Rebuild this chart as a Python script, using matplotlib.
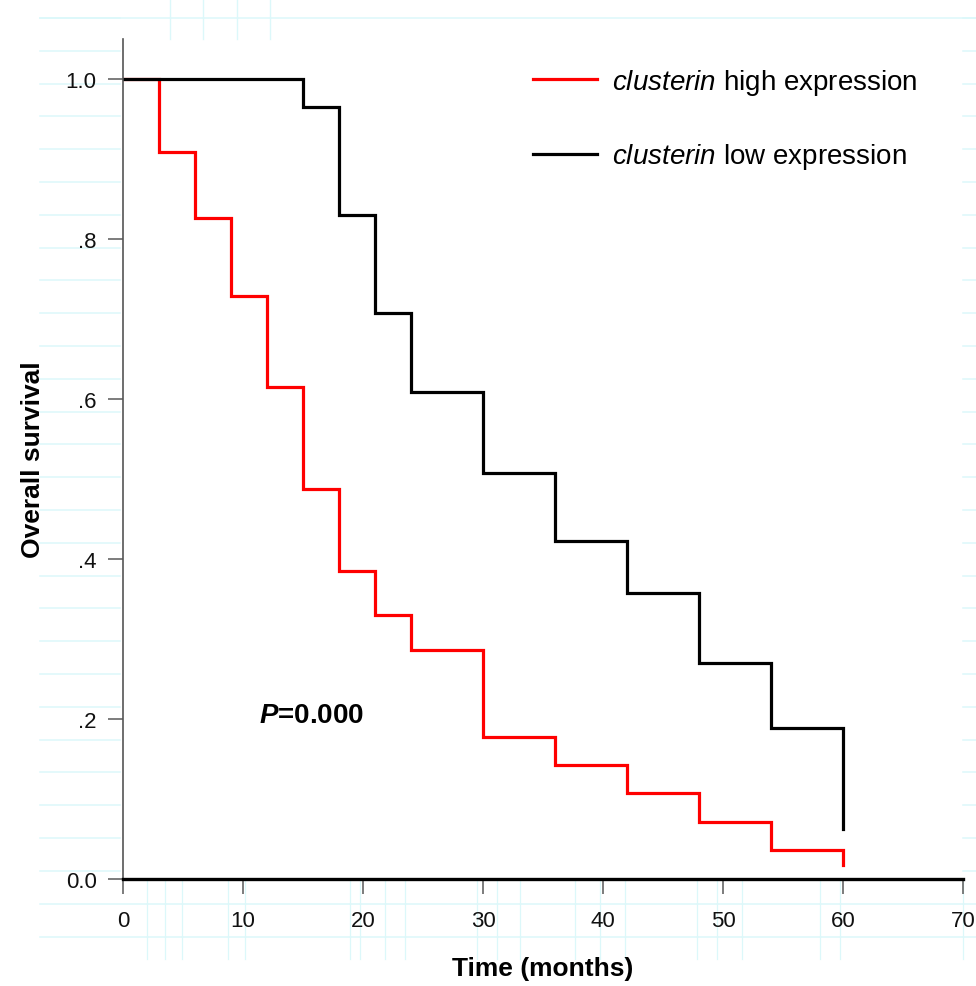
import matplotlib
matplotlib.use("Agg")
from matplotlib import pyplot as plt
from matplotlib.lines import Line2D
import numpy as np

plt.rcParams['font.family'] = ['Liberation Sans', 'DejaVu Sans']
plt.rcParams['mathtext.fontset'] = 'custom'
plt.rcParams['mathtext.rm'] = 'Liberation Sans'
plt.rcParams['mathtext.it'] = 'Liberation Sans:italic'
plt.rcParams['mathtext.bf'] = 'Liberation Sans:bold'
plt.rcParams['mathtext.bfit'] = 'Liberation Sans:bold:italic'

# survival curves (time in months, survival fraction)
highTime = [0, 3, 6, 9, 12, 15, 18, 21, 24, 30, 36, 42, 48, 54, 60]
highSurv = [1.0, 0.909, 0.826, 0.729, 0.615, 0.488, 0.385, 0.330, 0.286, 0.178, 0.142, 0.107, 0.071, 0.036, 0.018]
lowTime = [0, 15, 18, 21, 24, 30, 36, 42, 48, 54, 60]
lowSurv = [1.0, 0.965, 0.830, 0.708, 0.609, 0.507, 0.423, 0.357, 0.270, 0.189, 0.063]

xTicks = [0, 10, 20, 30, 40, 50, 60, 70]
yTicks = [0.0, 0.2, 0.4, 0.6, 0.8, 1.0]
yTickLabels = ['0.0', '.2', '.4', '.6', '.8', '1.0']

W, H = 976, 987
fig = plt.figure(figsize=(W / 100, H / 100), dpi=100)

# faint cyan page lines behind the chart
bg = fig.add_axes([0, 0, 1, 1], zorder=-1)
bg.set_xlim(0, W)
bg.set_ylim(H, 0)
bg.axis('off')
gridCol = '#dcf8fa'
for k in range(27):
    yy = 19 + 32.8 * k
    bg.plot([40, 120], [yy, yy], color=gridCol, lw=1.1)
    bg.plot([963, 976], [yy, yy], color=gridCol, lw=1.1)
bg.plot([40, 976], [19, 19], color=gridCol, lw=1.1)
bg.plot([40, 976], [905, 905], color=gridCol, lw=1.1)
bg.plot([40, 976], [938, 938], color=gridCol, lw=1.1)
for xx in [170, 203, 237, 270]:
    bg.plot([xx, xx], [0, 40], color=gridCol, lw=1.0)
for xx in [147, 165, 182, 228, 245, 350, 360, 385, 405, 477, 497, 520, 575, 600, 625, 697, 717, 742, 820, 840, 963]:
    bg.plot([xx, xx], [882, 960], color=gridCol, lw=0.9)

ax = fig.add_axes([123 / W, 1 - 880 / H, 840 / W, 840 / H])
ax.set_facecolor('none')

ax.step(highTime, highSurv, where='post', color='#ff0000', lw=2.3, solid_joinstyle='miter')
ax.step(lowTime, lowSurv, where='post', color='black', lw=2.3, solid_joinstyle='miter')

ax.set_xlim(0, 70)
ax.set_ylim(0, 1.05)
ax.set_xticks(xTicks)
ax.set_yticks(yTicks)
ax.set_yticklabels(yTickLabels)

for s in ['top', 'right']:
    ax.spines[s].set_visible(False)
ax.spines['left'].set_color('#555555')
ax.spines['left'].set_linewidth(1.2)
ax.spines['bottom'].set_color('black')
ax.spines['bottom'].set_linewidth(2.4)

ax.tick_params(axis='x', length=11, width=1.2, color='#666666', labelsize=16, labelcolor='#111111', pad=11)
ax.tick_params(axis='y', length=11, width=1.2, color='#666666', labelsize=16, labelcolor='#111111', pad=8)

ax.set_xlabel('Time (months)', fontsize=19, fontweight='bold', labelpad=18)
ax.set_ylabel('Overall survival', fontsize=19, fontweight='bold', labelpad=15)

ax.text(11.3, 0.205, r'$\mathbfit{P}$=0.000', fontsize=20, fontweight='bold', va='center', ha='left')

handles = [Line2D([], [], color='#ff0000', lw=2.3), Line2D([], [], color='black', lw=2.3)]
labels = [r'$\mathit{clusterin}$ high expression', r'$\mathit{clusterin}$ low expression']
ax.legend(handles, labels, loc='upper left', bbox_to_anchor=(0.475, 0.98), frameon=False,
          fontsize=20, handlelength=2.3, handletextpad=0.55, labelspacing=1.6, borderaxespad=0)

fig.savefig('out.png', dpi=100)
